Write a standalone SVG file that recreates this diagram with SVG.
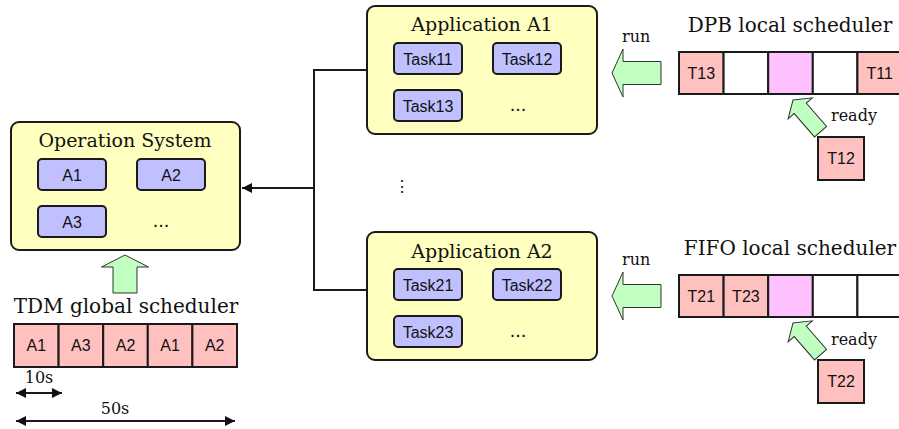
<svg xmlns="http://www.w3.org/2000/svg" width="899" height="429" viewBox="0 0 899 429">
  <defs>
    <style>
      .panel { fill: #ffffc0; stroke: #1a1a1a; stroke-width: 2; }
      .task { fill: #c0c0ff; stroke: #1a1a1a; stroke-width: 2; }
      .cell { stroke: #1a1a1a; stroke-width: 2; }
      .pink { fill: #ffc0c0; }
      .empty { fill: #ffffff; }
      .slot { fill: #ffc0ff; }
      .big { fill: #c0ffc0; stroke: #333333; stroke-width: 1; stroke-linejoin: miter; }
      .wire { fill: none; stroke: #1a1a1a; stroke-width: 2; }
      .title { font-family: "DejaVu Serif", "Liberation Serif", serif; font-size: 19px; fill: #111; text-anchor: middle; }
      .head { font-family: "DejaVu Serif", "Liberation Serif", serif; font-size: 20px; fill: #111; text-anchor: middle; }
      .note { font-family: "DejaVu Serif", "Liberation Serif", serif; font-size: 16px; fill: #111; }
      .lbl { font-family: "Liberation Sans", Arial, sans-serif; font-size: 16px; fill: #111; text-anchor: middle; }
      .dots { font-family: "Liberation Sans", Arial, sans-serif; font-size: 20px; fill: #111; text-anchor: middle; }
    </style>
    <marker id="tri" viewBox="0 0 10 10" refX="10" refY="5" markerWidth="10" markerHeight="10" markerUnits="userSpaceOnUse" orient="auto-start-reverse">
      <path d="M0,0 L10,5 L0,10 z" fill="#111"/>
    </marker>
    <!-- block arrows pointing left, tip at the origin -->
    <path id="blockLeft" d="M0,0 L11,-24 L11,-11.5 L49,-11.5 L49,11.5 L11,11.5 L11,24 z"/>
    <path id="blockUp" d="M0,0 L12,-23.5 L12,-12 L38,-12 L38,12 L12,12 L12,23.5 z"/>
    <path id="blockSmall" d="M0,0 L11,-16 L11,-8 L42,-8 L42,8 L11,8 L11,16 z"/>
  </defs>

  <!-- Operating system with its applications -->
  <g id="os">
    <rect class="panel" x="11" y="122" width="229" height="128" rx="8"/>
    <text class="title" x="125" y="147">Operation System</text>
    <rect class="task" x="38" y="159" width="68" height="31" rx="4"/>
    <text class="lbl" x="72" y="180.5">A1</text>
    <rect class="task" x="137" y="159" width="68" height="31" rx="4"/>
    <text class="lbl" x="171" y="180.5">A2</text>
    <rect class="task" x="38" y="206" width="68" height="31" rx="4"/>
    <text class="lbl" x="72" y="227.5">A3</text>
    <text class="dots" x="161" y="227">...</text>
  </g>

  <!-- TDM global scheduler -->
  <g id="tdm">
    <use href="#blockUp" class="big" transform="translate(125,255) rotate(90)"/>
    <text class="head" x="126" y="313">TDM global scheduler</text>
    <rect class="cell pink" x="14" y="324" width="44.6" height="43"/>
    <rect class="cell pink" x="58.6" y="324" width="44.6" height="43"/>
    <rect class="cell pink" x="103.2" y="324" width="44.6" height="43"/>
    <rect class="cell pink" x="147.8" y="324" width="44.6" height="43"/>
    <rect class="cell pink" x="192.4" y="324" width="44.6" height="43"/>
    <text class="lbl" x="36.3" y="351">A1</text>
    <text class="lbl" x="80.9" y="351">A3</text>
    <text class="lbl" x="125.5" y="351">A2</text>
    <text class="lbl" x="170.1" y="351">A1</text>
    <text class="lbl" x="214.7" y="351">A2</text>
    <text class="note" x="39" y="383" text-anchor="middle">10s</text>
    <line class="wire" x1="16" y1="393" x2="62" y2="393" marker-start="url(#tri)" marker-end="url(#tri)"/>
    <text class="note" x="115" y="414" text-anchor="middle">50s</text>
    <line class="wire" x1="16" y1="421" x2="235" y2="421" marker-start="url(#tri)" marker-end="url(#tri)"/>
  </g>

  <!-- Application A1 -->
  <g id="app1">
    <rect class="panel" x="367" y="6" width="230" height="128" rx="8"/>
    <text class="title" x="482" y="31">Application A1</text>
    <rect class="task" x="394" y="43" width="68" height="31" rx="4"/>
    <text class="lbl" x="428" y="64.5">Task11</text>
    <rect class="task" x="493" y="43" width="68" height="31" rx="4"/>
    <text class="lbl" x="527" y="64.5">Task12</text>
    <rect class="task" x="394" y="90" width="68" height="31" rx="4"/>
    <text class="lbl" x="428" y="111.5">Task13</text>
    <text class="dots" x="518" y="111">...</text>
  </g>

  <!-- Application A2 -->
  <g id="app2">
    <rect class="panel" x="367" y="232" width="230" height="128" rx="8"/>
    <text class="title" x="482" y="258">Application A2</text>
    <rect class="task" x="394" y="269" width="68" height="31" rx="4"/>
    <text class="lbl" x="428" y="290.5">Task21</text>
    <rect class="task" x="493" y="269" width="68" height="31" rx="4"/>
    <text class="lbl" x="527" y="290.5">Task22</text>
    <rect class="task" x="394" y="316" width="68" height="31" rx="4"/>
    <text class="lbl" x="428" y="337.5">Task23</text>
    <text class="dots" x="518" y="337">...</text>
  </g>

  <text id="more" class="lbl" x="402" y="192">⋮</text>

  <!-- DPB local scheduler -->
  <g id="dpb">
    <text class="head" x="790" y="32">DPB local scheduler</text>
    <text class="note" x="622" y="42">run</text>
    <use href="#blockLeft" class="big" transform="translate(612,73)"/>
    <rect class="cell pink" x="679" y="52" width="44.6" height="42"/>
    <rect class="cell empty" x="723.6" y="52" width="44.6" height="42"/>
    <rect class="cell slot" x="768.2" y="52" width="44.6" height="42"/>
    <rect class="cell empty" x="812.8" y="52" width="44.6" height="42"/>
    <rect class="cell pink" x="857.4" y="52" width="44.6" height="42"/>
    <text class="lbl" x="701.3" y="78.5">T13</text>
    <text class="lbl" x="879.7" y="78.5">T11</text>
    <use href="#blockSmall" class="big" transform="translate(793,100) rotate(49)"/>
    <text class="note" x="831" y="121">ready</text>
    <rect class="cell pink" x="818" y="137" width="46" height="43"/>
    <text class="lbl" x="841" y="164">T12</text>
  </g>

  <!-- FIFO local scheduler -->
  <g id="fifo">
    <text class="head" x="790" y="255">FIFO local scheduler</text>
    <text class="note" x="622" y="265">run</text>
    <use href="#blockLeft" class="big" transform="translate(612,296)"/>
    <rect class="cell pink" x="679" y="275" width="44.6" height="42"/>
    <rect class="cell pink" x="723.6" y="275" width="44.6" height="42"/>
    <rect class="cell slot" x="768.2" y="275" width="44.6" height="42"/>
    <rect class="cell empty" x="812.8" y="275" width="44.6" height="42"/>
    <rect class="cell empty" x="857.4" y="275" width="44.6" height="42"/>
    <text class="lbl" x="701.3" y="301.5">T21</text>
    <text class="lbl" x="745.9" y="301.5">T23</text>
    <use href="#blockSmall" class="big" transform="translate(793,323) rotate(49)"/>
    <text class="note" x="831" y="345">ready</text>
    <rect class="cell pink" x="818" y="360" width="46" height="43"/>
    <text class="lbl" x="841" y="387">T22</text>
  </g>

  <!-- connectors between applications and the OS -->
  <g id="connectors">
    <path class="wire" d="M367,70 H314 V290 H367"/>
    <line class="wire" x1="314" y1="188" x2="242" y2="188" marker-end="url(#tri)"/>
  </g>
</svg>
